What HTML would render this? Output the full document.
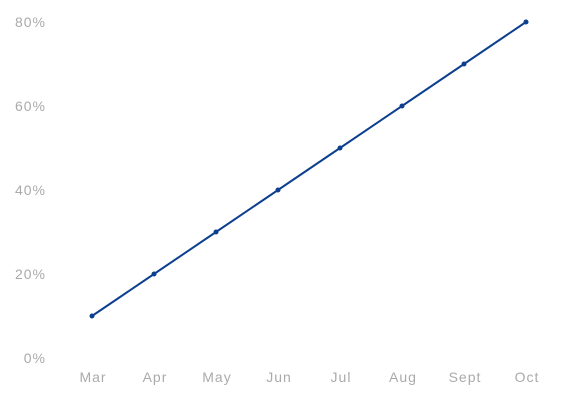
<!DOCTYPE html>
<html><head><meta charset="utf-8"><style>
html,body{margin:0;padding:0;background:#fff;width:583px;height:402px;overflow:hidden}
text{font-family:"Liberation Sans",sans-serif;font-size:14px;fill:#aaa;letter-spacing:1px}
</style></head><body>
<svg id="chart" width="583" height="402" xmlns="http://www.w3.org/2000/svg"></svg>
<script>
const categories=["Mar","Apr","May","Jun","Jul","Aug","Sept","Oct"];
const values=[10,20,30,40,50,60,70,80];
const yTicks=[0,20,40,60,80];
const yTickLabels=["0%","20%","40%","60%","80%"];
const svg=document.getElementById('chart');
const NS="http://www.w3.org/2000/svg";
function x(i){return 92+i*62;}
function y(v){return 358-v*4.2;}
function el(t,a){const e=document.createElementNS(NS,t);for(const k in a)e.setAttribute(k,a[k]);svg.appendChild(e);return e;}
yTicks.forEach((v,i)=>{
  const t=el('text',{x:46,y:y(v)+5,'text-anchor':'end'});
  
  
  t.textContent=yTickLabels[i];
});
categories.forEach((c,i)=>{
  const t=el('text',{x:x(i)+1,y:382,'text-anchor':'middle'});
  
  
  t.textContent=c;
});
const line=el('polyline',{points:values.map((v,i)=>x(i)+','+y(v)).join(' '),fill:'none',stroke:'#0d3f8f','stroke-width':2});


values.forEach((v,i)=>{
  const c=el('circle',{cx:x(i),cy:y(v),r:2.5,fill:'#0d3f8f'});
  
  
});
</script>
</body></html>
